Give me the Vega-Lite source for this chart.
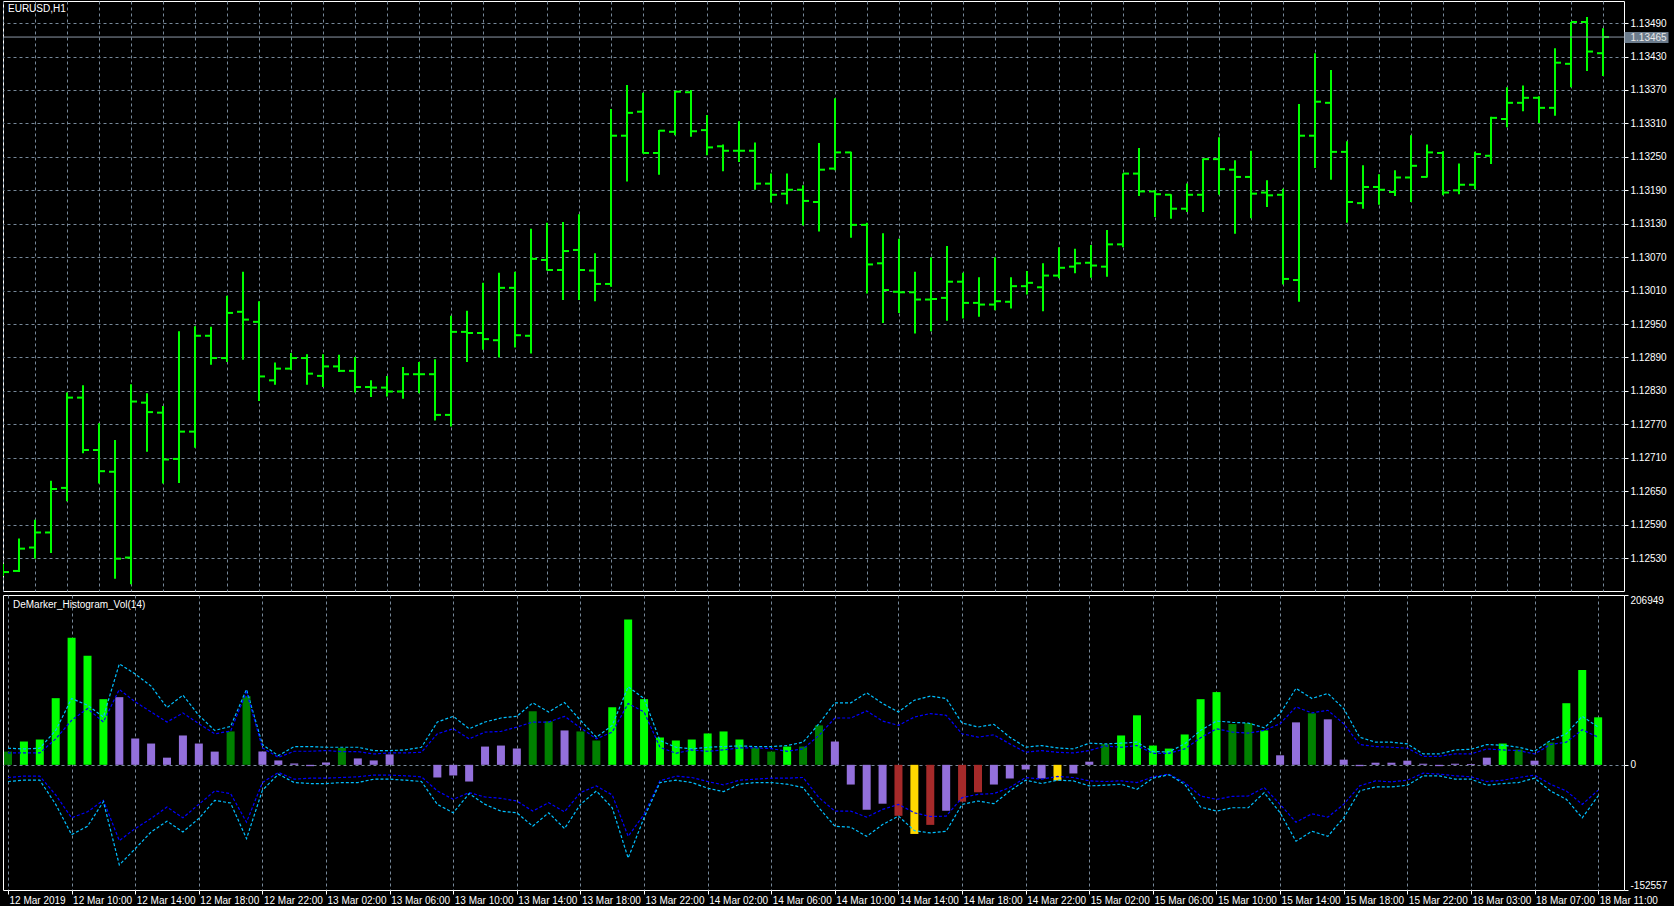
{
"$schema":"https://vega.github.io/schema/vega-lite/v6.json",
"background":"#000000",
"padding":{"left":2,"top":0,"right":0,"bottom":0},
"spacing":2,
"datasets":{"bars":[
{"i":0,"o":1.12512,"h":1.1252,"l":1.12498,"c":1.12505,"v":16100,"k":"up","uc":20190,"ub":14460,"lb":-15440,"lc":-20360},
{"i":1,"o":1.12507,"h":1.12565,"l":1.12505,"c":1.12547,"v":28400,"k":"up+","uc":19370,"ub":14460,"lb":-13800,"lc":-18720},
{"i":2,"o":1.12549,"h":1.12599,"l":1.12529,"c":1.12576,"v":30840,"k":"up+","uc":20190,"ub":14460,"lb":-13800,"lc":-18720},
{"i":3,"o":1.12576,"h":1.12669,"l":1.12539,"c":1.12654,"v":81220,"k":"up+","uc":41900,"ub":31660,"lb":-36740,"lc":-48210},
{"i":4,"o":1.12656,"h":1.12827,"l":1.12632,"c":1.12818,"v":154950,"k":"up+","uc":80810,"ub":54190,"lb":-64590,"lc":-85070},
{"i":5,"o":1.12818,"h":1.1284,"l":1.12718,"c":1.12724,"v":132830,"k":"up+","uc":72620,"ub":68520,"lb":-57220,"lc":-74830},
{"i":6,"o":1.12724,"h":1.12772,"l":1.12664,"c":1.12686,"v":80000,"k":"up+","uc":58280,"ub":52140,"lb":-43300,"lc":-44940},
{"i":7,"o":1.12685,"h":1.12742,"l":1.12493,"c":1.12529,"v":82450,"k":"flat","uc":123000,"ub":91870,"lb":-92400,"lc":-122000},
{"i":8,"o":1.12531,"h":1.12842,"l":1.12483,"c":1.12811,"v":32070,"k":"flat","uc":110700,"ub":76720,"lb":-77700,"lc":-102270},
{"i":9,"o":1.12809,"h":1.12826,"l":1.12721,"c":1.12792,"v":25930,"k":"flat","uc":95960,"ub":64430,"lb":-65410,"lc":-81790},
{"i":10,"o":1.12791,"h":1.12803,"l":1.12664,"c":1.12707,"v":8720,"k":"flat","uc":69750,"ub":52140,"lb":-51490,"lc":-68690},
{"i":11,"o":1.12708,"h":1.12937,"l":1.12665,"c":1.12757,"v":35760,"k":"flat","uc":84910,"ub":63200,"lb":-64590,"lc":-81790},
{"i":12,"o":1.12757,"h":1.12946,"l":1.12728,"c":1.12929,"v":25930,"k":"flat","uc":60330,"ub":50090,"lb":-48210,"lc":-65410},
{"i":13,"o":1.12929,"h":1.12945,"l":1.12877,"c":1.12889,"v":16100,"k":"flat","uc":41900,"ub":37810,"lb":-31830,"lc":-43300},
{"i":14,"o":1.12889,"h":1.13001,"l":1.12882,"c":1.1297,"v":40670,"k":"up","uc":46820,"ub":41080,"lb":-35100,"lc":-46560},
{"i":15,"o":1.12972,"h":1.13044,"l":1.12886,"c":1.12958,"v":83680,"k":"up","uc":91870,"ub":89000,"lb":-69910,"lc":-90030},
{"i":16,"o":1.12954,"h":1.12991,"l":1.12812,"c":1.12856,"v":16100,"k":"flat","uc":24700,"ub":20600,"lb":-21590,"lc":-31010},
{"i":17,"o":1.12849,"h":1.12881,"l":1.12841,"c":1.1287,"v":5330,"k":"flat","uc":11180,"ub":9130,"lb":-9300,"lc":-11350},
{"i":18,"o":1.1287,"h":1.12898,"l":1.12868,"c":1.12889,"v":1640,"k":"flat","uc":22240,"ub":16510,"lb":-17490,"lc":-21590},
{"i":19,"o":1.12889,"h":1.12896,"l":1.12841,"c":1.12861,"v":-1640,"k":"flat","uc":22240,"ub":16510,"lb":-16260,"lc":-22810},
{"i":20,"o":1.12857,"h":1.12896,"l":1.12837,"c":1.12874,"v":2870,"k":"flat","uc":21420,"ub":17330,"lb":-16260,"lc":-22810},
{"i":21,"o":1.12874,"h":1.12895,"l":1.12864,"c":1.12866,"v":20480,"k":"up","uc":21420,"ub":16100,"lb":-15440,"lc":-21590},
{"i":22,"o":1.12866,"h":1.12891,"l":1.12827,"c":1.12837,"v":7780,"k":"flat","uc":21420,"ub":16100,"lb":-14620,"lc":-21590},
{"i":23,"o":1.12837,"h":1.12849,"l":1.12819,"c":1.12836,"v":5330,"k":"flat","uc":17330,"ub":13230,"lb":-12570,"lc":-17490},
{"i":24,"o":1.12836,"h":1.12857,"l":1.1282,"c":1.12829,"v":12700,"k":"flat","uc":17330,"ub":14460,"lb":-12570,"lc":-17490},
{"i":25,"o":1.12829,"h":1.12873,"l":1.12816,"c":1.1286,"v":0,"k":"flat","uc":18150,"ub":14460,"lb":-13390,"lc":-18720},
{"i":26,"o":1.1286,"h":1.12882,"l":1.12826,"c":1.1286,"v":0,"k":"flat","uc":21420,"ub":15280,"lb":-14620,"lc":-20360},
{"i":27,"o":1.1286,"h":1.12887,"l":1.12777,"c":1.12787,"v":-15440,"k":"flat","uc":52140,"ub":37810,"lb":-31830,"lc":-48210},
{"i":28,"o":1.12787,"h":1.12965,"l":1.12766,"c":1.12936,"v":-12980,"k":"flat","uc":59100,"ub":43950,"lb":-42070,"lc":-58450},
{"i":29,"o":1.12936,"h":1.12974,"l":1.12882,"c":1.12934,"v":-20360,"k":"flat","uc":43950,"ub":31660,"lb":-33870,"lc":-35100},
{"i":30,"o":1.12934,"h":1.13024,"l":1.12904,"c":1.12923,"v":22240,"k":"flat","uc":52140,"ub":39850,"lb":-39200,"lc":-48210},
{"i":31,"o":1.12921,"h":1.13042,"l":1.1289,"c":1.13015,"v":23470,"k":"flat","uc":57060,"ub":40670,"lb":-40830,"lc":-56400},
{"i":32,"o":1.13015,"h":1.13044,"l":1.12908,"c":1.1293,"v":19780,"k":"flat","uc":59100,"ub":46000,"lb":-44110,"lc":-58450},
{"i":33,"o":1.12929,"h":1.13121,"l":1.12897,"c":1.13067,"v":65250,"k":"up","uc":75500,"ub":52140,"lb":-56400,"lc":-74830},
{"i":34,"o":1.13065,"h":1.13132,"l":1.13046,"c":1.13047,"v":52960,"k":"up","uc":64430,"ub":52140,"lb":-46150,"lc":-58450},
{"i":35,"o":1.13047,"h":1.13133,"l":1.12993,"c":1.13081,"v":41900,"k":"flat","uc":75900,"ub":59100,"lb":-57220,"lc":-77700},
{"i":36,"o":1.13083,"h":1.13147,"l":1.12993,"c":1.13047,"v":40670,"k":"up","uc":54190,"ub":45180,"lb":-33870,"lc":-48210},
{"i":37,"o":1.13046,"h":1.13077,"l":1.12991,"c":1.13022,"v":29610,"k":"up","uc":33710,"ub":31660,"lb":-25680,"lc":-31830},
{"i":38,"o":1.13022,"h":1.13336,"l":1.13017,"c":1.13288,"v":70160,"k":"up+","uc":48050,"ub":39850,"lb":-36740,"lc":-52330},
{"i":39,"o":1.13288,"h":1.13379,"l":1.13206,"c":1.13329,"v":177070,"k":"up+","uc":95130,"ub":74680,"lb":-87120,"lc":-113650},
{"i":40,"o":1.13331,"h":1.13365,"l":1.13256,"c":1.13257,"v":80000,"k":"up+","uc":80810,"ub":64430,"lb":-60500,"lc":-64590},
{"i":41,"o":1.13257,"h":1.13298,"l":1.13218,"c":1.13297,"v":33300,"k":"up+","uc":29610,"ub":21420,"lb":-19540,"lc":-21590},
{"i":42,"o":1.13295,"h":1.13368,"l":1.13289,"c":1.13367,"v":29610,"k":"up+","uc":21420,"ub":14050,"lb":-13800,"lc":-18720},
{"i":43,"o":1.13366,"h":1.1337,"l":1.13286,"c":1.13296,"v":30840,"k":"up+","uc":19370,"ub":18150,"lb":-15440,"lc":-21590},
{"i":44,"o":1.13298,"h":1.13325,"l":1.13253,"c":1.13267,"v":38220,"k":"up+","uc":21420,"ub":16510,"lb":-20360,"lc":-28550},
{"i":45,"o":1.13269,"h":1.13272,"l":1.13224,"c":1.13261,"v":40670,"k":"up+","uc":22240,"ub":18150,"lb":-24450,"lc":-32640},
{"i":46,"o":1.13261,"h":1.13314,"l":1.13241,"c":1.13261,"v":30840,"k":"up+","uc":23060,"ub":20600,"lb":-18720,"lc":-23630},
{"i":47,"o":1.13261,"h":1.13276,"l":1.13191,"c":1.13202,"v":21010,"k":"up","uc":22240,"ub":20600,"lb":-17490,"lc":-21590},
{"i":48,"o":1.13202,"h":1.1322,"l":1.13168,"c":1.13182,"v":16100,"k":"up","uc":22240,"ub":19780,"lb":-16260,"lc":-21590},
{"i":49,"o":1.13184,"h":1.1322,"l":1.13165,"c":1.13191,"v":22240,"k":"up+","uc":23470,"ub":16510,"lb":-16260,"lc":-23630},
{"i":50,"o":1.13191,"h":1.13199,"l":1.13127,"c":1.13171,"v":22240,"k":"up","uc":27570,"ub":19370,"lb":-15440,"lc":-27730},
{"i":51,"o":1.13169,"h":1.13275,"l":1.13116,"c":1.13227,"v":48050,"k":"up","uc":50090,"ub":35760,"lb":-40010,"lc":-52330},
{"i":52,"o":1.13229,"h":1.13355,"l":1.13226,"c":1.13258,"v":28390,"k":"flat","uc":75500,"ub":57060,"lb":-56400,"lc":-74830},
{"i":53,"o":1.13258,"h":1.13259,"l":1.13105,"c":1.13128,"v":-24040,"k":"flat","uc":75500,"ub":57060,"lb":-56400,"lc":-76050},
{"i":54,"o":1.13128,"h":1.13132,"l":1.13005,"c":1.13057,"v":-54760,"k":"flat","uc":87770,"ub":65660,"lb":-63770,"lc":-87120},
{"i":55,"o":1.13059,"h":1.13113,"l":1.12952,"c":1.13011,"v":-47390,"k":"flat","uc":74680,"ub":53370,"lb":-54350,"lc":-72790},
{"i":56,"o":1.13008,"h":1.13103,"l":1.1297,"c":1.13007,"v":-62140,"k":"down","uc":64430,"ub":48050,"lb":-48210,"lc":-62550},
{"i":57,"o":1.13007,"h":1.13044,"l":1.12933,"c":1.12994,"v":-84250,"k":"down+","uc":78760,"ub":58280,"lb":-58450,"lc":-80150},
{"i":58,"o":1.12994,"h":1.1307,"l":1.12937,"c":1.12995,"v":-73200,"k":"down","uc":83680,"ub":62380,"lb":-62960,"lc":-83010},
{"i":59,"o":1.12997,"h":1.1309,"l":1.12956,"c":1.13026,"v":-55990,"k":"flat","uc":80810,"ub":60330,"lb":-62550,"lc":-80970},
{"i":60,"o":1.13026,"h":1.13042,"l":1.1296,"c":1.12988,"v":-44930,"k":"down","uc":50910,"ub":37810,"lb":-40010,"lc":-48210},
{"i":61,"o":1.12988,"h":1.13034,"l":1.12963,"c":1.12985,"v":-33460,"k":"down","uc":46000,"ub":33710,"lb":-35920,"lc":-44110},
{"i":62,"o":1.12985,"h":1.1307,"l":1.12975,"c":1.12991,"v":-24040,"k":"flat","uc":49270,"ub":36580,"lb":-35100,"lc":-47390},
{"i":63,"o":1.1299,"h":1.13034,"l":1.12978,"c":1.13018,"v":-16670,"k":"flat","uc":33710,"ub":25520,"lb":-27730,"lc":-31830},
{"i":64,"o":1.13018,"h":1.13045,"l":1.13003,"c":1.13024,"v":-5610,"k":"flat","uc":21420,"ub":15280,"lb":-15440,"lc":-18720},
{"i":65,"o":1.13016,"h":1.13059,"l":1.12973,"c":1.13037,"v":-16670,"k":"flat","uc":23470,"ub":17330,"lb":-17490,"lc":-22810},
{"i":66,"o":1.13037,"h":1.13088,"l":1.13032,"c":1.13051,"v":-19130,"k":"down+","uc":20600,"ub":15280,"lb":-14210,"lc":-18720},
{"i":67,"o":1.13053,"h":1.13085,"l":1.13041,"c":1.13059,"v":-10530,"k":"flat","uc":19370,"ub":14460,"lb":-15440,"lc":-19540},
{"i":68,"o":1.1306,"h":1.13092,"l":1.13033,"c":1.13055,"v":3810,"k":"flat","uc":26340,"ub":17330,"lb":-19540,"lc":-25680},
{"i":69,"o":1.13053,"h":1.13119,"l":1.13035,"c":1.13093,"v":25110,"k":"up","uc":25520,"ub":23060,"lb":-20360,"lc":-24860},
{"i":70,"o":1.13093,"h":1.1322,"l":1.13088,"c":1.1322,"v":35760,"k":"up+","uc":26340,"ub":21420,"lb":-19540,"lc":-23630},
{"i":71,"o":1.1322,"h":1.13266,"l":1.1318,"c":1.13188,"v":60330,"k":"up+","uc":27570,"ub":23470,"lb":-21590,"lc":-29780},
{"i":72,"o":1.13188,"h":1.1319,"l":1.13142,"c":1.13183,"v":23470,"k":"up+","uc":16100,"ub":14050,"lb":-14620,"lc":-16260},
{"i":73,"o":1.13182,"h":1.13183,"l":1.13139,"c":1.13157,"v":19780,"k":"up+","uc":15690,"ub":14050,"lb":-11350,"lc":-12160},
{"i":74,"o":1.13157,"h":1.13202,"l":1.13151,"c":1.13182,"v":36990,"k":"up+","uc":25520,"ub":19370,"lb":-21590,"lc":-23630},
{"i":75,"o":1.13182,"h":1.13247,"l":1.13151,"c":1.13246,"v":80000,"k":"up+","uc":41900,"ub":32890,"lb":-38000,"lc":-51500},
{"i":76,"o":1.13246,"h":1.13285,"l":1.13182,"c":1.13228,"v":88600,"k":"up+","uc":53370,"ub":43950,"lb":-42070,"lc":-56400},
{"i":77,"o":1.13227,"h":1.13244,"l":1.13112,"c":1.13214,"v":49680,"k":"up","uc":51730,"ub":39850,"lb":-38420,"lc":-52330},
{"i":78,"o":1.13214,"h":1.13261,"l":1.1314,"c":1.13184,"v":50910,"k":"up","uc":50910,"ub":38630,"lb":-38000,"lc":-52330},
{"i":79,"o":1.13186,"h":1.13208,"l":1.1316,"c":1.13181,"v":41900,"k":"up+","uc":45180,"ub":41900,"lb":-27730,"lc":-33870},
{"i":80,"o":1.13182,"h":1.13193,"l":1.13021,"c":1.13031,"v":11590,"k":"flat","uc":62380,"ub":50090,"lb":-48210,"lc":-58450},
{"i":81,"o":1.13029,"h":1.13345,"l":1.1299,"c":1.13288,"v":51730,"k":"flat","uc":93180,"ub":70570,"lb":-69910,"lc":-93180},
{"i":82,"o":1.13288,"h":1.13436,"l":1.1323,"c":1.13349,"v":62790,"k":"up","uc":80810,"ub":63200,"lb":-59680,"lc":-80970},
{"i":83,"o":1.13347,"h":1.13406,"l":1.13209,"c":1.13259,"v":55420,"k":"flat","uc":86950,"ub":66480,"lb":-63770,"lc":-87120},
{"i":84,"o":1.13259,"h":1.13278,"l":1.13132,"c":1.13169,"v":6270,"k":"flat","uc":68600,"ub":50090,"lb":-48210,"lc":-64590},
{"i":85,"o":1.13167,"h":1.13235,"l":1.13157,"c":1.13196,"v":-1640,"k":"flat","uc":33710,"ub":24700,"lb":-25680,"lc":-31830},
{"i":86,"o":1.13196,"h":1.13219,"l":1.13164,"c":1.13191,"v":2580,"k":"flat","uc":27570,"ub":22240,"lb":-19540,"lc":-26910},
{"i":87,"o":1.13187,"h":1.13226,"l":1.1318,"c":1.13213,"v":2580,"k":"flat","uc":27570,"ub":21420,"lb":-20770,"lc":-26910},
{"i":88,"o":1.13213,"h":1.13289,"l":1.13169,"c":1.13234,"v":5040,"k":"flat","uc":25520,"ub":20190,"lb":-18720,"lc":-24860},
{"i":89,"o":1.13214,"h":1.13272,"l":1.13213,"c":1.13258,"v":1350,"k":"flat","uc":13230,"ub":10360,"lb":-10120,"lc":-13390},
{"i":90,"o":1.13257,"h":1.1326,"l":1.13181,"c":1.13186,"v":-1640,"k":"flat","uc":13230,"ub":10360,"lb":-11350,"lc":-13390},
{"i":91,"o":1.1319,"h":1.13238,"l":1.13183,"c":1.132,"v":1350,"k":"flat","uc":18150,"ub":13230,"lb":-13390,"lc":-17490},
{"i":92,"o":1.132,"h":1.13259,"l":1.13192,"c":1.13255,"v":1000,"k":"flat","uc":18960,"ub":13230,"lb":-14620,"lc":-17490},
{"i":93,"o":1.13252,"h":1.13322,"l":1.13237,"c":1.1332,"v":8720,"k":"flat","uc":24700,"ub":19370,"lb":-20360,"lc":-24860},
{"i":94,"o":1.13318,"h":1.13375,"l":1.13303,"c":1.13347,"v":25930,"k":"up+","uc":23880,"ub":18150,"lb":-18720,"lc":-22810},
{"i":95,"o":1.13347,"h":1.13378,"l":1.13332,"c":1.13356,"v":18560,"k":"up","uc":21420,"ub":17330,"lb":-15440,"lc":-21590},
{"i":96,"o":1.13356,"h":1.13359,"l":1.13311,"c":1.13338,"v":5040,"k":"flat","uc":16510,"ub":13230,"lb":-12570,"lc":-16260},
{"i":97,"o":1.13338,"h":1.13445,"l":1.13324,"c":1.13419,"v":27160,"k":"up","uc":29610,"ub":24700,"lb":-23630,"lc":-31830},
{"i":98,"o":1.13417,"h":1.13492,"l":1.13375,"c":1.13492,"v":75080,"k":"up+","uc":37810,"ub":27570,"lb":-31830,"lc":-42070},
{"i":99,"o":1.13492,"h":1.13501,"l":1.13404,"c":1.13439,"v":115630,"k":"up+","uc":59100,"ub":42730,"lb":-48210,"lc":-64590},
{"i":100,"o":1.13436,"h":1.13481,"l":1.13395,"c":1.13465,"v":57880,"k":"up+","uc":46000,"ub":33710,"lb":-31010,"lc":-37890}
],
"last":[{"p":1.13465}],
"title1":[{"t":"EURUSD,H1"}],
"title2":[{"t":"DeMarker_Histogram_Vol(14)"}]},
"config":{
"view":{"stroke":"#ffffff","strokeWidth":1},
"font":"Liberation Sans",
"axis":{"labelFont":"Liberation Sans","labelColor":"#ffffff","labelFontSize":10,"domain":false,"gridColor":"#778899","gridDash":[3,3],"gridWidth":1,"tickColor":"#ffffff","tickSize":4,"title":null}
},
"vconcat":[
{
"width":1621,"height":590,
"layer":[
{"data":{"name":"bars"},"mark":{"type":"rule","color":"#00ff00","strokeWidth":2,"clip":true},
"encoding":{
"x":{"field":"i","type":"quantitative","scale":{"domain":[0,101.3125],"nice":false,"zero":false},"axis":{"values":[0,2,4,6,8,10,12,14,16,18,20,22,24,26,28,30,32,34,36,38,40,42,44,46,48,50,52,54,56,58,60,62,64,66,68,70,72,74,76,78,80,82,84,86,88,90,92,94,96,98,100],"labels":false,"ticks":false,"domain":false,"grid":true,"title":null}},
"y":{"field":"l","type":"quantitative","scale":{"domain":[1.12471,1.135297],"nice":false,"zero":false},"axis":{"orient":"right","values":[1.1253,1.1259,1.1265,1.1271,1.1277,1.1283,1.1289,1.1295,1.1301,1.1307,1.1313,1.1319,1.1325,1.1331,1.1337,1.1343,1.1349],"format":".5f","grid":true,"labelPadding":2,"labelOverlap":false,"labelFlush":false,"title":null}},
"y2":{"field":"h"}}},
{"data":{"name":"bars"},"mark":{"type":"rule","color":"#00ff00","strokeWidth":2,"xOffset":-6,"x2Offset":0,"clip":true},
"encoding":{
"x":{"field":"i","type":"quantitative","scale":{"domain":[0,101.3125],"nice":false,"zero":false},"axis":{"values":[0,2,4,6,8,10,12,14,16,18,20,22,24,26,28,30,32,34,36,38,40,42,44,46,48,50,52,54,56,58,60,62,64,66,68,70,72,74,76,78,80,82,84,86,88,90,92,94,96,98,100],"labels":false,"ticks":false,"domain":false,"grid":true,"title":null}},
"x2":{"field":"i"},
"y":{"field":"o","type":"quantitative","scale":{"domain":[1.12471,1.135297],"nice":false,"zero":false},"axis":null}}},
{"data":{"name":"bars"},"mark":{"type":"rule","color":"#00ff00","strokeWidth":2,"xOffset":0,"x2Offset":6,"clip":true},
"encoding":{
"x":{"field":"i","type":"quantitative","scale":{"domain":[0,101.3125],"nice":false,"zero":false},"axis":{"values":[0,2,4,6,8,10,12,14,16,18,20,22,24,26,28,30,32,34,36,38,40,42,44,46,48,50,52,54,56,58,60,62,64,66,68,70,72,74,76,78,80,82,84,86,88,90,92,94,96,98,100],"labels":false,"ticks":false,"domain":false,"grid":true,"title":null}},
"x2":{"field":"i"},
"y":{"field":"c","type":"quantitative","scale":{"domain":[1.12471,1.135297],"nice":false,"zero":false},"axis":null}}},
{"data":{"name":"last"},"mark":{"type":"rule","color":"#8c98a6","strokeWidth":1},
"encoding":{
"y":{"field":"p","type":"quantitative","scale":{"domain":[1.12471,1.135297],"nice":false,"zero":false},"axis":{"orient":"right","values":[1.13465],"format":".5f","grid":false,"tickSize":44,"tickWidth":11,"tickColor":"#6c7c8d","labelPadding":-38,"labelColor":"#e8e8e8","labelFlush":false,"labelOverlap":false,"title":null,"zindex":2}}}},
{"data":{"name":"title1"},"mark":{"type":"text","align":"left","baseline":"alphabetic","dx":5,"dy":11,"color":"#ffffff","fontSize":10,"font":"Liberation Sans"},
"encoding":{
"x":{"datum":0,"type":"quantitative","scale":{"domain":[0,101.3125],"nice":false,"zero":false},"axis":{"values":[0,2,4,6,8,10,12,14,16,18,20,22,24,26,28,30,32,34,36,38,40,42,44,46,48,50,52,54,56,58,60,62,64,66,68,70,72,74,76,78,80,82,84,86,88,90,92,94,96,98,100],"labels":false,"ticks":false,"domain":false,"grid":true,"title":null}},
"y":{"datum":1.135297,"type":"quantitative","scale":{"domain":[1.12471,1.135297],"nice":false,"zero":false},"axis":null},
"text":{"field":"t"}}}
],
"resolve":{"axis":{"y":"independent"}}
},
{
"width":1621,"height":295,
"layer":[
{"data":{"name":"bars"},"mark":{"type":"bar","width":8,"clip":true},
"encoding":{
"x":{"field":"i","type":"quantitative","scale":{"domain":[0,101.3125],"nice":false,"zero":false},
"axis":{"values":[0,2,4,6,8,10,12,14,16,18,20,22,24,26,28,30,32,34,36,38,40,42,44,46,48,50,52,54,56,58,60,62,64,66,68,70,72,74,76,78,80,82,84,86,88,90,92,94,96,98,100],"grid":true,"domain":false,"ticks":true,"tickSize":4,"tickOpacity":{"condition":{"test":"datum.value % 4 == 0","value":1},"value":0},
"labelExpr":"datum.value % 4 == 0 ? ['12 Mar 2019','12 Mar 10:00','12 Mar 14:00','12 Mar 18:00','12 Mar 22:00','13 Mar 02:00','13 Mar 06:00','13 Mar 10:00','13 Mar 14:00','13 Mar 18:00','13 Mar 22:00','14 Mar 02:00','14 Mar 06:00','14 Mar 10:00','14 Mar 14:00','14 Mar 18:00','14 Mar 22:00','15 Mar 02:00','15 Mar 06:00','15 Mar 10:00','15 Mar 14:00','15 Mar 18:00','15 Mar 22:00','18 Mar 03:00','18 Mar 07:00','18 Mar 11:00'][datum.value / 4] : ''",
"labelAlign":"left","labelBaseline":"top","labelPadding":1,"labelOffset":1,"labelOverlap":false,"labelFlush":false,"labelBound":false,"title":null}},
"y":{"field":"v","type":"quantitative","scale":{"domain":[-152557,206949],"nice":false,"zero":false},
"axis":{"orient":"right","values":[-152557,0,206949],"labelExpr":"'' + datum.value","grid":true,"gridOpacity":{"condition":{"test":"datum.value == 0","value":1},"value":0},"labelFlush":true,"labelPadding":2,"labelOverlap":false,"title":null}},
"y2":{"datum":0},
"color":{"field":"k","type":"nominal","scale":{"domain":["up+","up","flat","down","down+"],"range":["#00ff00","#008000","#9370db","#a52a2a","#ffd700"]},"legend":null}}},
{"data":{"name":"bars"},"transform":[{"fold":["uc","ub","lb","lc"],"as":["band","val"]}],
"mark":{"type":"line","strokeWidth":1.2,"strokeDash":[3,2],"clip":true},
"encoding":{
"x":{"field":"i","type":"quantitative","scale":{"domain":[0,101.3125],"nice":false,"zero":false}},
"y":{"field":"val","type":"quantitative","scale":{"domain":[-152557,206949],"nice":false,"zero":false}},
"color":{"field":"band","type":"nominal","scale":{"domain":["uc","ub","lb","lc"],"range":["#00bfff","#0000ff","#0000ff","#00bfff"]},"legend":null},
"detail":{"field":"band"}}},
{"data":{"name":"title2"},"mark":{"type":"text","align":"left","baseline":"alphabetic","dx":5,"dy":12.5,"color":"#ffffff","fontSize":10,"font":"Liberation Sans"},
"encoding":{
"x":{"datum":0,"type":"quantitative","scale":{"domain":[0,101.3125],"nice":false,"zero":false}},
"y":{"datum":206949,"type":"quantitative","scale":{"domain":[-152557,206949],"nice":false,"zero":false}},
"text":{"field":"t"}}}
],
"resolve":{"scale":{"color":"independent"}}
}
]
}
